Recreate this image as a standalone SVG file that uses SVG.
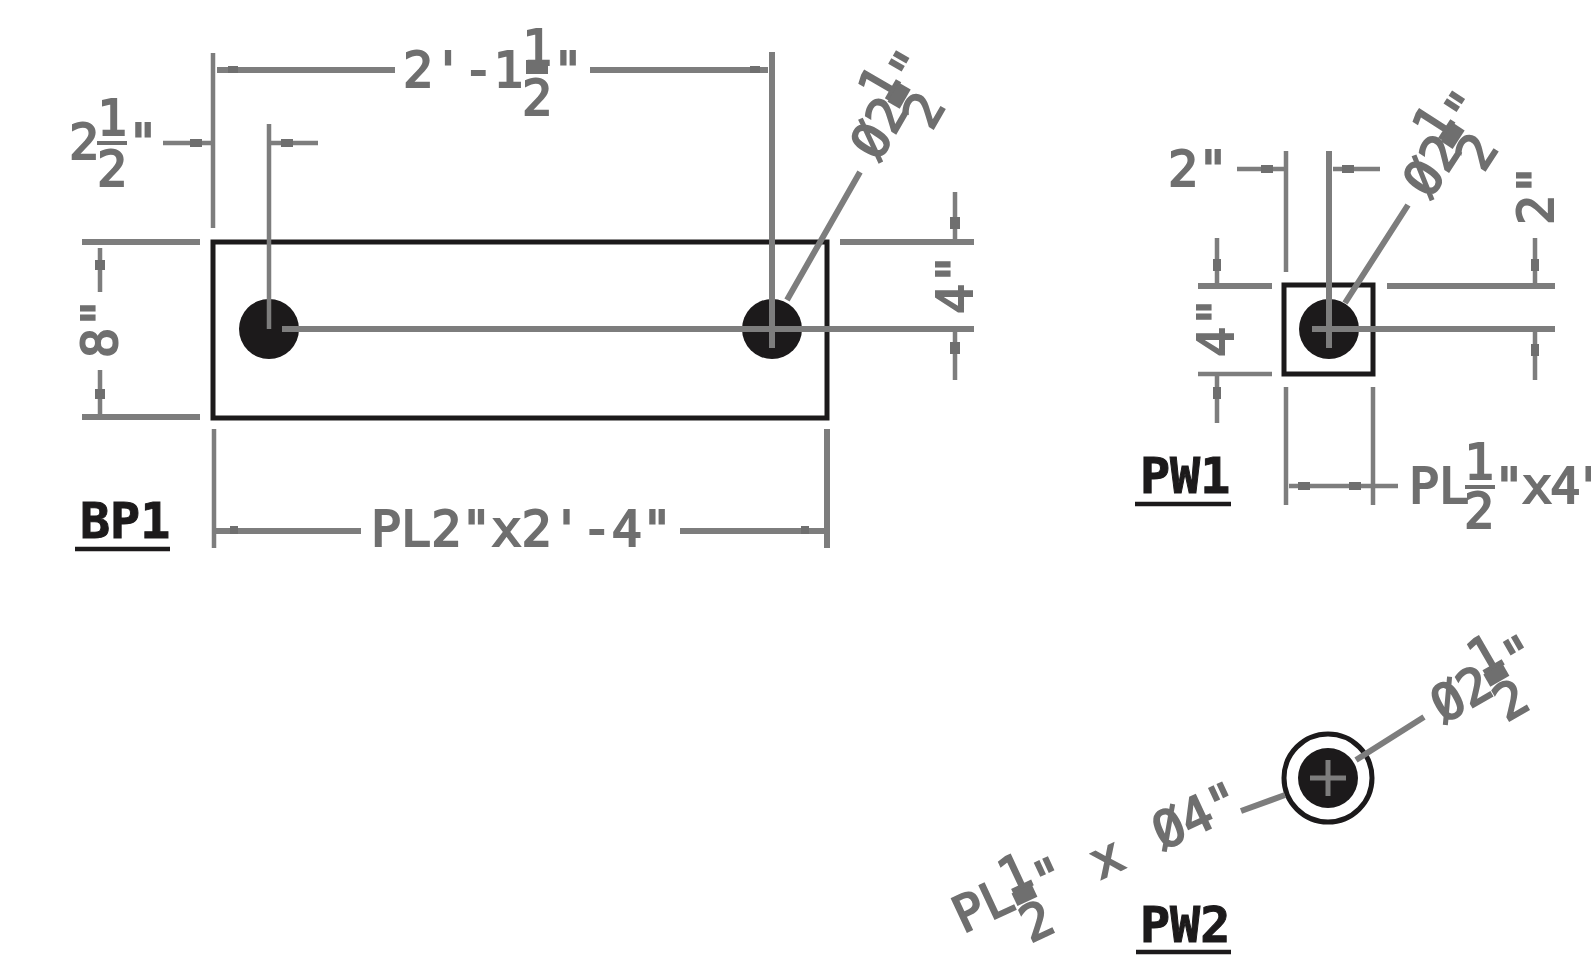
<svg xmlns="http://www.w3.org/2000/svg" width="1591" height="956" viewBox="0 0 1591 956">
<style>
text{font-family:"DejaVu Sans Mono","Liberation Mono",monospace;font-size:50px}
.d{fill:#6f6f6f;stroke:#6f6f6f;stroke-width:2}
.m{text-anchor:middle}
.t{fill:#1c1a1b;stroke:#1c1a1b;stroke-width:1;font-weight:700}
.k{stroke:#1c1a1b;fill:none;stroke-width:5}
.h{fill:#1c1a1b}
.l{stroke:#7d7d7d;fill:none;stroke-width:5}
.n{stroke-width:4.5}
.w{stroke-width:6}
.b{fill:#6f6f6f}
.u{stroke:#1c1a1b;stroke-width:4.5}
</style>
<rect width="1591" height="956" fill="#fff"/>
<g id="BP1">
  <rect class="k" x="213" y="242" width="614" height="176"/>
  <circle class="h" cx="269" cy="329" r="30"/>
  <circle class="h" cx="772" cy="329" r="30"/>
  <text class="t" x="80" y="538">BP1</text>
  <line class="u" x1="75" y1="549" x2="170" y2="549"/>
</g>
<g id="PW1">
  <rect class="k" x="1284" y="285" width="89" height="89"/>
  <circle class="h" cx="1329" cy="329" r="30"/>
  <text class="t" x="1140" y="493">PW1</text>
  <line class="u" x1="1135" y1="504" x2="1231" y2="504"/>
</g>
<g id="PW2">
  <circle class="k" cx="1328" cy="778" r="44"/>
  <circle class="h" cx="1328" cy="778" r="30"/>
  <text class="t" x="1140" y="942">PW2</text>
  <line class="u" x1="1136" y1="952" x2="1231" y2="952"/>
</g>
<g id="connectors">
  <path class="l n" d="M213 53V228M269 124V329M1286 151V272M1286 387V505M214 429V548M1373 387V505"/>
  <path class="l w" d="M772 52V348M1329 151V348M217 70H395M590 70H768M82 242H200M82 417H200M216 531H361M680 531H825M827 429V548M282 329H974M840 242H974M1312 329H1555M1198 286H1272M1387 286H1555"/>
  <path class="l n" d="M163 143H213M269 143H318M100 248V292M100 370V414M955 192V239M955 332V380M1198 374H1272M1217 238V283M1217 374V423M1535 238V283M1535 332V380M1237 169H1284M1333 169H1380M1289 486H1398"/>
  <path class="l w" d="M787 300L860 172M1345 303L1408 205M1356 760L1424 717M1285 795L1241 811"/>
  <path class="l" d="M1310 778H1346M1328 760V796"/>
  <path class="b" d="M190 139h12v8h-12zM281 139h12v8h-12zM95 260h10v10h-10zM95 389h10v10h-10zM950 217h10v12h-10zM950 342h10v12h-10zM1261 165h12v8h-12zM1342 165h12v8h-12zM1213 259h8v12h-8zM1213 387h8v12h-8zM1531 259h8v12h-8zM1531 344h8v12h-8zM1298 482h12v8h-12zM1349 482h12v8h-12zM230 526h8v8h-8zM801 526h8v8h-8zM228 66h10v7h-10zM750 66h10v7h-10z"/>
</g>
<g id="dimensions">
  <text class="d" x="403" y="87">2'-1</text>
  <text class="d m" x="537" y="65">1</text>
  <text class="d m" x="537" y="115">2</text>
  <rect class="b" x="526" y="60" width="22" height="14"/>
  <text class="d" x="553" y="87">"</text>

  <text class="d" x="69" y="159">2</text>
  <text class="d m" x="112" y="135">1</text>
  <rect class="b" x="97" y="141" width="30" height="4"/>
  <text class="d m" x="112" y="186">2</text>
  <text class="d" x="128" y="159">"</text>

  <text class="d" x="371" y="546">PL2"x2'-4"</text>
  <text class="d" transform="translate(117 358) rotate(-90)">8"</text>
  <text class="d" transform="translate(972 314) rotate(-90)">4"</text>

  <g transform="translate(877 166) rotate(-60)">
    <text class="d" x="4" y="0">Ø2</text>
    <text class="d m" x="72" y="-22">1</text>
    <text class="d m" x="72" y="30">2</text>
    <rect class="b" x="61" y="-23" width="22" height="14"/>
    <text class="d m" x="102" y="-4">"</text>
  </g>

  <text class="d" x="1168" y="186">2"</text>
  <text class="d" transform="translate(1553 225) rotate(-90)">2"</text>
  <text class="d" transform="translate(1233 357) rotate(-90)">4"</text>
  <g transform="translate(1427 205) rotate(-57)">
    <text class="d" x="6" y="0">Ø2</text>
    <text class="d m" x="72" y="-22">1</text>
    <text class="d m" x="72" y="30">2</text>
    <rect class="b" x="61" y="-23" width="22" height="14"/>
    <text class="d m" x="102" y="-4">"</text>
  </g>
  <text class="d" x="1409" y="503">PL</text>
  <text class="d m" x="1479" y="479">1</text>
  <rect class="b" x="1465" y="485" width="30" height="4"/>
  <text class="d m" x="1479" y="528">2</text>
  <text class="d" x="1494" y="503" letter-spacing="-2">"x4"</text>

  <g transform="translate(1442 725) rotate(-30)">
    <text class="d" x="2" y="0">Ø2</text>
    <text class="d m" x="72" y="-22">1</text>
    <text class="d m" x="72" y="30">2</text>
    <rect class="b" x="61" y="-23" width="22" height="14"/>
    <text class="d m" x="102" y="-4">"</text>
  </g>
  <g transform="translate(966 940) rotate(-25)">
    <text class="d" x="0" y="-7">PL</text>
    <text class="d m" x="72" y="-22">1</text>
    <text class="d m" x="72" y="30">2</text>
    <rect class="b" x="61" y="-23" width="22" height="14"/>
    <text class="d m" x="102" y="-4">"</text>
    <text class="d" x="147" y="2">x <tspan dx="9">Ø4"</tspan></text>
  </g>
</g>
</svg>
